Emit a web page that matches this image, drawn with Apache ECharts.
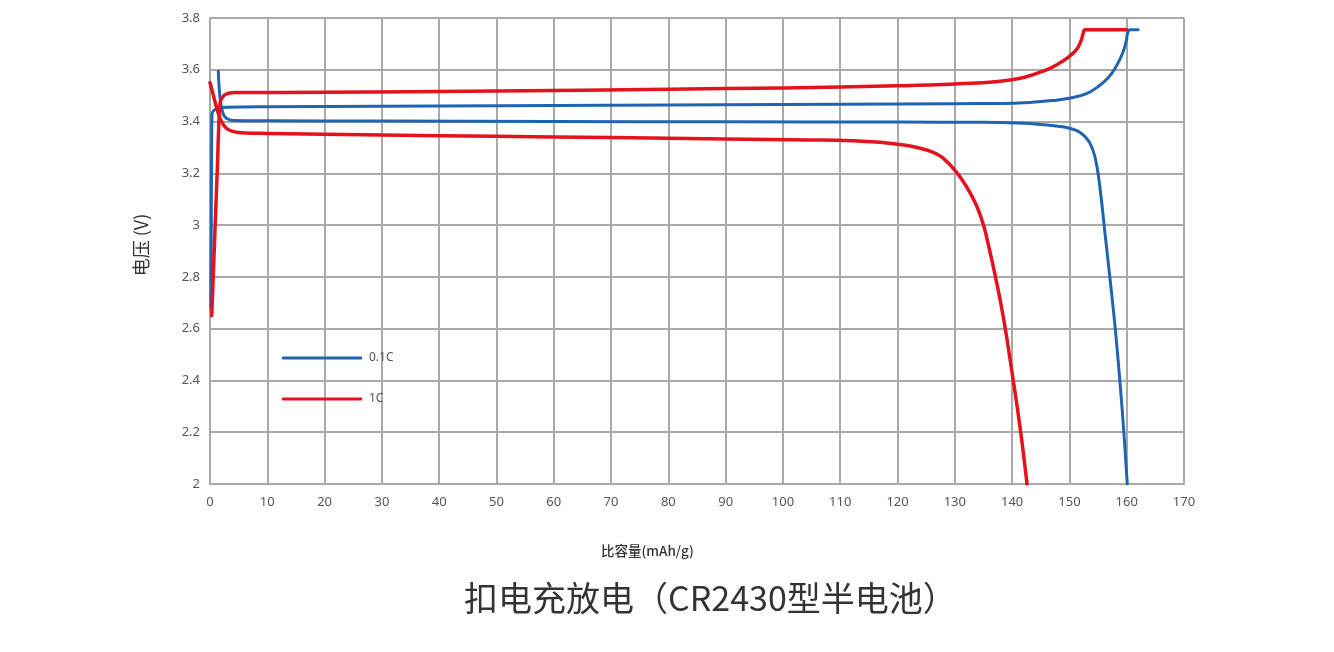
<!DOCTYPE html>
<html lang="zh-CN">
<head>
    <meta charset="utf-8">
    <title>扣电充放电</title>
    <script src="https://cdn.jsdelivr.net/npm/echarts@6.0.0/dist/echarts.min.js"></script>
    <style>
        html, body { margin: 0; padding: 0; background: #fff; }
        #chart { width: 1334px; height: 652px; }
    </style>
</head>
<body>
<div id="chart"></div>
<script>
    // 比容量(mAh/g) , 电压(V) —— 点
    var charge01 = [[0.15, 2.68], [0.22, 3.0], [0.28, 3.3], [0.35, 3.43], [0.8, 3.445], [1.6, 3.452], [3, 3.455],
        [10, 3.457], [30, 3.459], [50, 3.461], [70, 3.463], [90, 3.465], [110, 3.467], [130, 3.469], [138, 3.47],
        [143, 3.474], [147, 3.481], [150, 3.49], [153, 3.508], [155, 3.535], [156.8, 3.57], [158.2, 3.615],
        [159.3, 3.665], [159.9, 3.71], [160.2, 3.745], [160.6, 3.755], [162, 3.755]];
    var discharge01 = [[1.45, 3.594], [1.6, 3.53], [1.8, 3.48], [2.0, 3.455], [2.4, 3.425], [2.9, 3.412], [4, 3.404],
        [10, 3.403], [30, 3.402], [60, 3.4], [90, 3.399], [120, 3.398], [135, 3.397], [141, 3.394], [145, 3.389],
        [148, 3.382], [150, 3.374], [152, 3.356], [153.5, 3.32], [154.5, 3.26], [155.3, 3.15], [156.2, 2.97],
        [157.1, 2.79], [158, 2.6], [158.8, 2.4], [159.5, 2.2], [160.1, 2.0]];
    var charge1 = [[0.3, 2.65], [0.8, 2.94], [1.3, 3.23], [1.75, 3.47], [2.2, 3.495], [3, 3.508], [4.5, 3.512],
        [20, 3.513], [50, 3.518], [80, 3.525], [100, 3.53], [120, 3.538], [130, 3.545], [138, 3.556],
        [142, 3.57], [146, 3.6], [148, 3.622], [150, 3.652], [151.3, 3.68], [152, 3.71], [152.4, 3.74],
        [152.7, 3.755], [153.3, 3.755], [160, 3.755]];
    var discharge1 = [[0, 3.55], [0.6, 3.5], [1.2, 3.45], [2, 3.4], [2.8, 3.375], [3.8, 3.363], [5.5, 3.357],
        [10, 3.354], [30, 3.348], [50, 3.343], [70, 3.338], [90, 3.333], [105, 3.329], [112, 3.326], [117, 3.32],
        [120.4, 3.311], [122.8, 3.303], [125.1, 3.29], [126.6, 3.277], [128, 3.258], [130, 3.212], [132, 3.15],
        [133.8, 3.075], [135, 3.0], [136.1, 2.9], [137, 2.81], [138.5, 2.64], [140.2, 2.4], [141.5, 2.2], [142.6, 2.0]];

    var rateNames = ['0.1C', '1C'];
    var rateColors = ['#1f64b0', '#e3121c'];

    var gridColor = '#a9a9a9';
    var labelColor = '#555';

    var chart = echarts.init(document.getElementById('chart'));

    function curve(name, data, color, width) {
        return {
            name: name,
            type: 'line',
            data: data,
            showSymbol: false,
            symbol: 'none',
            smooth: 0.45,
            lineStyle: { color: color, width: width, cap: 'round', join: 'round' },
            itemStyle: { color: color },
            animation: false
        };
    }

    var option = {
        backgroundColor: '#fff',
        textStyle: { fontFamily: '"Noto Sans", "Noto Sans CJK SC", sans-serif' },
        title: [
            {
                text: '扣电充放电（CR2430型半电池）',
                left: 459,
                top: 576,
                textStyle: { fontSize: 34, fontWeight: 'normal', color: '#333',
                    fontFamily: '"Noto Sans CJK SC", sans-serif' }
            },
            {
                text: '比容量(mAh/g)',
                left: 596,
                top: 539,
                textStyle: { fontSize: 13.5, fontWeight: 500, color: '#333',
                    fontFamily: '"Noto Sans CJK SC", sans-serif' }
            }
        ],
        legend: {
            orient: 'vertical',
            left: 277,
            top: 347,
            itemWidth: 80,
            itemHeight: 3,
            itemGap: 29,
            icon: 'roundRect',
            data: rateNames,
            textStyle: { fontSize: 12, color: labelColor, padding: [0, 0, 0, 2] }
        },
        grid: {
            left: 210,
            right: 150,
            top: 18,
            bottom: 168
        },
        xAxis: {
            type: 'value',
            min: 0,
            max: 170,
            interval: 10,
            axisLine: { show: true, lineStyle: { color: gridColor, width: 2 } },
            axisTick: { show: false },
            axisLabel: { color: labelColor, fontSize: 13, margin: 12 },
            splitLine: { show: true, lineStyle: { color: gridColor, width: 2 } }
        },
        yAxis: {
            type: 'value',
            min: 2,
            max: 3.8,
            interval: 0.2,
            name: '电压 (V)',
            nameLocation: 'middle',
            nameRotate: 90,
            nameGap: 60,
            nameTextStyle: { fontSize: 18, color: '#333', padding: [0, 0, 0, 12],
                fontFamily: '"Noto Sans CJK SC", sans-serif' },
            axisLine: { show: true, lineStyle: { color: gridColor, width: 2 } },
            axisTick: { show: false },
            axisLabel: { color: labelColor, fontSize: 13, margin: 10 },
            splitLine: { show: true, lineStyle: { color: gridColor, width: 2 } }
        },
        series: [
            curve(rateNames[0], charge01, rateColors[0], 3),
            curve(rateNames[0], discharge01, rateColors[0], 3),
            curve(rateNames[1], charge1, rateColors[1], 3.5),
            curve(rateNames[1], discharge1, rateColors[1], 3.5)
        ]
    };
    chart.setOption(option);
</script>
</body>
</html>
